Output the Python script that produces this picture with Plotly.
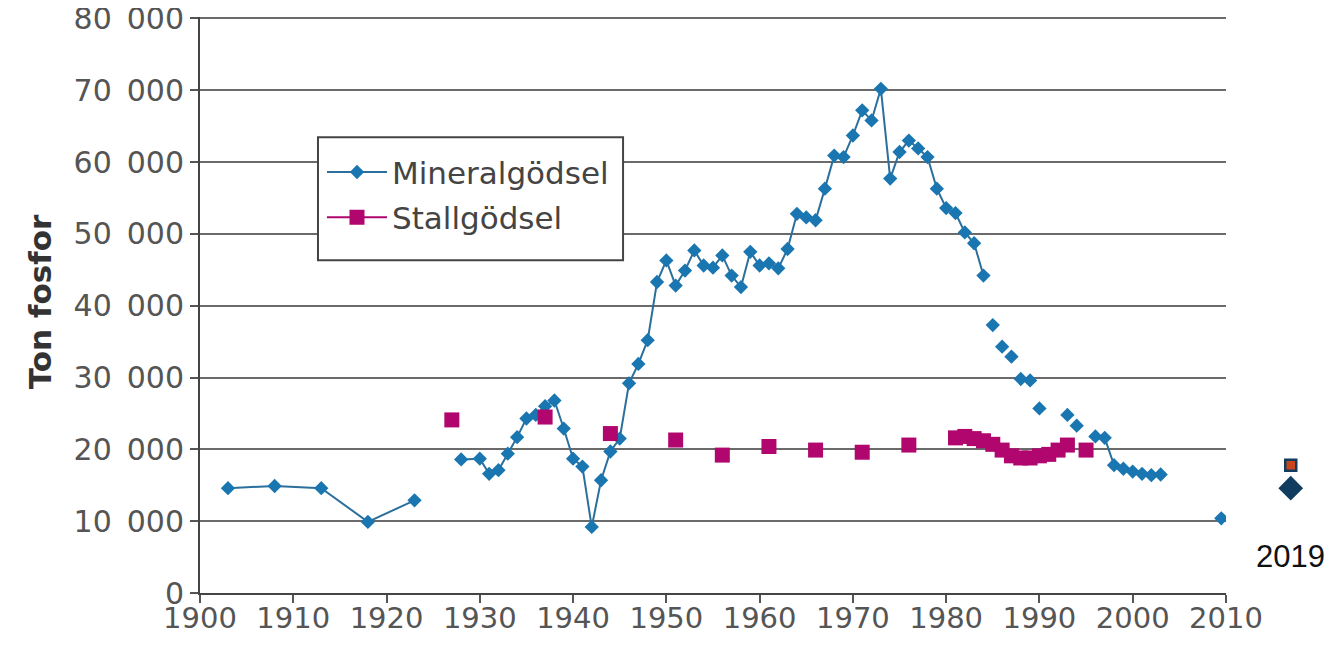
import plotly.graph_objects as go

# ---------------- data ----------------
mineral_years = [1903, 1908, 1913, 1918, 1923,
                 1928, 1930, 1931, 1932, 1933, 1934, 1935, 1936, 1937, 1938, 1939, 1940,
                 1941, 1942, 1943, 1944, 1945, 1946, 1947, 1948, 1949, 1950, 1951, 1952,
                 1953, 1954, 1955, 1956, 1957, 1958, 1959, 1960, 1961, 1962, 1963, 1964,
                 1965, 1966, 1967, 1968, 1969, 1970, 1971, 1972, 1973, 1974, 1975, 1976,
                 1977, 1978, 1979, 1980, 1981, 1982, 1983, 1984,
                 1985, 1986, 1987, 1988, 1989, 1990, 1993, 1994,
                 1996, 1997, 1998, 1999, 2000, 2001, 2002, 2003,
                 2009.5]
mineral_values = [14600, 14900, 14600, 9900, 12900,
                  18600, 18700, 16600, 17100, 19400, 21700, 24300, 24800, 26000, 26800, 22900, 18700,
                  17600, 9200, 15700, 19700, 21500, 29200, 31900, 35200, 43300, 46300, 42800, 44900,
                  47700, 45600, 45300, 47000, 44200, 42600, 47500, 45600, 45900, 45200, 47900, 52800,
                  52300, 51900, 56300, 60900, 60700, 63700, 67200, 65800, 70200, 57700, 61400, 63000,
                  61900, 60700, 56300, 53600, 52900, 50200, 48700, 44200,
                  37300, 34300, 32900, 29800, 29600, 25700, 24800, 23300,
                  21800, 21600, 17800, 17300, 16900, 16600, 16400, 16500,
                  10400]
# points sharing a segment id are joined by a line
mineral_segment = [1, 1, 1, 1, 1,
                   2, 2, 2, 2, 2, 2, 2, 2, 2, 2, 2, 2,
                   2, 2, 2, 2, 2, 2, 2, 2, 2, 2, 2, 2,
                   2, 2, 2, 2, 2, 2, 2, 2, 2, 2, 2, 2,
                   2, 2, 2, 2, 2, 2, 2, 2, 2, 2, 2, 2,
                   2, 2, 2, 2, 2, 2, 2, 2,
                   3, 4, 5, 6, 7, 8, 9, 10,
                   11, 11, 11, 11, 11, 11, 11, 11,
                   12]

stall_years = [1927, 1937, 1944, 1951, 1956, 1961, 1966, 1971, 1976,
               1981, 1982, 1983, 1984, 1985, 1986, 1987, 1988, 1989, 1990, 1991, 1992, 1993,
               1995]
stall_values = [24100, 24500, 22200, 21300, 19200, 20400, 19900, 19600, 20600,
                21600, 21800, 21500, 21200, 20700, 19900, 19100, 18800, 18800, 19100, 19300, 19900, 20600,
                19900]
stall_segment = [1, 2, 3, 4, 5, 6, 7, 8, 9,
                 10, 10, 10, 10, 10, 10, 10, 10, 10, 10, 10, 10, 10,
                 11]

year_2019 = [2019]
mineral_2019 = [14600]
stall_2019 = [17800]

y_ticks = [0, 10000, 20000, 30000, 40000, 50000, 60000, 70000, 80000]
y_ticktext = ["0", "10\u2002000", "20\u2002000", "30\u2002000", "40\u2002000",
              "50\u2002000", "60\u2002000", "70\u2002000", "80\u2002000"]
x_ticks = list(range(1900, 2011, 10))


def with_gaps(xs, ys, seg):
    ox, oy = [], []
    for i, (x, y, s) in enumerate(zip(xs, ys, seg)):
        if i > 0 and s != seg[i - 1]:
            ox.append(None)
            oy.append(None)
        ox.append(x)
        oy.append(y)
    return ox, oy


BLUE = "#1a76b0"
MAGENTA = "#b0066e"
NAVY = "#103c5f"
FONT = "DejaVu Sans"

mx, my = with_gaps(mineral_years, mineral_values, mineral_segment)
sx, sy = with_gaps(stall_years, stall_values, stall_segment)

fig = go.Figure()
fig.add_trace(go.Scatter(
    x=mx, y=my, name="Mineralgödsel", mode="lines+markers",
    line=dict(color="#2b6f9c", width=2),
    marker=dict(symbol="diamond", size=11, color=BLUE),
    connectgaps=False, legendgroup="m",
))
fig.add_trace(go.Scatter(
    x=sx, y=sy, name="Stallgödsel", mode="lines+markers",
    line=dict(color=MAGENTA, width=2),
    marker=dict(symbol="square", size=15, color=MAGENTA),
    connectgaps=False, legendgroup="s",
))
fig.add_trace(go.Scatter(
    x=year_2019, y=stall_2019, mode="markers", showlegend=False,
    marker=dict(symbol="square", size=11, color="#c8461e",
                line=dict(color=NAVY, width=2.5)),
    xaxis="x2", yaxis="y2",
))
fig.add_trace(go.Scatter(
    x=year_2019, y=mineral_2019, mode="markers", showlegend=False,
    marker=dict(symbol="diamond", size=19, color=NAVY),
    xaxis="x2", yaxis="y2",
))

Y_MAX = 80200

fig.update_layout(
    width=1333, height=653,
    margin=dict(l=192, r=28, t=8.6, b=68),
    paper_bgcolor="white", plot_bgcolor="white",
    font=dict(family=FONT, color="#555"),
    xaxis=dict(
        domain=[0, 0.9218], range=[1900, 2010], automargin=False,
        tickvals=x_ticks, showgrid=False, zeroline=False,
        showline=True, linecolor="#444", linewidth=2,
        ticks="outside", ticklen=8, tickwidth=2, tickcolor="#555",
        tickfont=dict(family=FONT, size=29, color="#555"),
        ticklabelstandoff=-10, ticklabeloverflow="allow",
    ),
    yaxis=dict(
        range=[0, Y_MAX], tickvals=y_ticks, ticktext=y_ticktext, automargin=False,
        showgrid=True, gridcolor="#6a6a6a", gridwidth=2, zeroline=False,
        showline=True, linecolor="#444", linewidth=2,
        ticks="outside", ticklen=8, tickwidth=2, tickcolor="#555",
        tickfont=dict(family=FONT, size=30, color="#555"),
        ticklabeloverflow="allow",
    ),
    xaxis2=dict(domain=[0.94, 1.0], range=[2015, 2021], visible=False,
                anchor="y2", automargin=False),
    yaxis2=dict(domain=[0, 1], range=[0, Y_MAX], visible=False, anchor="x2",
                automargin=False),
    legend=dict(
        x=0.1096, y=0.7772, xanchor="left", yanchor="top",
        bgcolor="rgba(0,0,0,0)", borderwidth=0,
        font=dict(family=FONT, size=31, color="#444"),
        itemwidth=60, traceorder="grouped", tracegroupgap=2,
    ),
    shapes=[
        dict(type="rect", xref="paper", yref="paper",
             x0=0.1060, x1=0.3801, y0=0.5777, y1=0.7911,
             fillcolor="white", line=dict(color="#444", width=2), layer="above"),
    ],
    annotations=[
        dict(text="Ton fosfor", textangle=-90, xref="paper", yref="paper",
             x=-0.144, y=0.506, xanchor="center", yanchor="middle", showarrow=False,
             font=dict(family=FONT, size=31, color="#333", weight="bold")),
        dict(text="2019", xref="x2", yref="paper", x=2019, y=0.0626,
             xanchor="center", yanchor="middle", showarrow=False,
             font=dict(family="Liberation Sans", size=31, color="#111")),
    ],
)

fig.write_html("out.html")
